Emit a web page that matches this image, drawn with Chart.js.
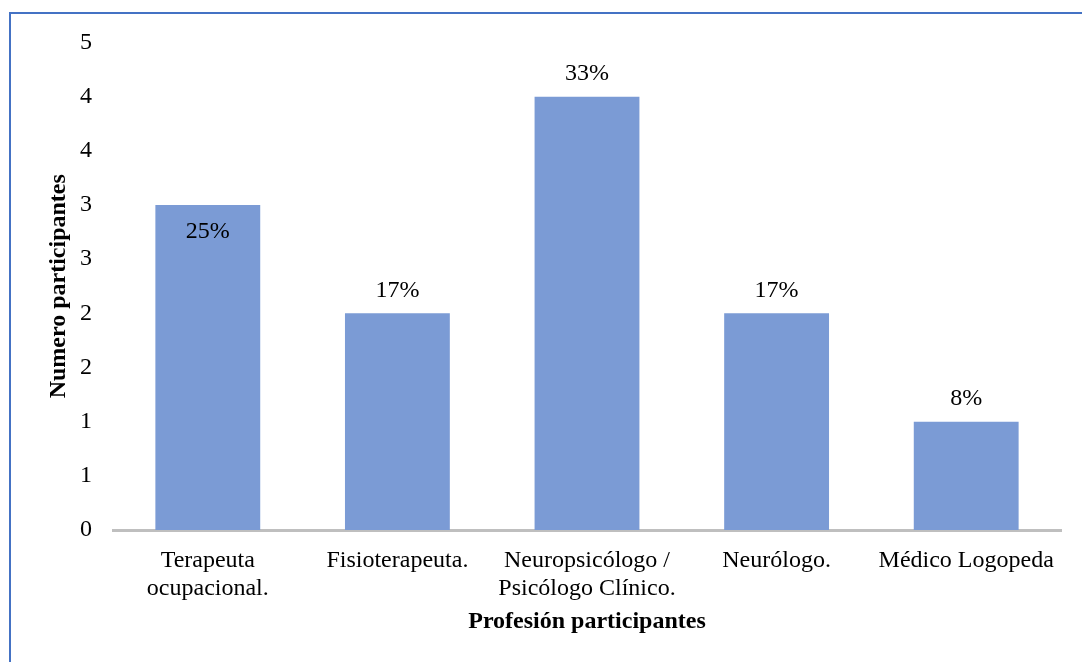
<!DOCTYPE html>
<html lang="es">
<head>
    <meta charset="UTF-8">
    <title>Profesión participantes</title>
    <script src="https://cdn.jsdelivr.net/npm/chart.js"></script>
    <style>
        html, body { margin: 0; padding: 0; background: #fff; overflow: hidden; }
        #wrap { position: relative; width: 1082px; height: 662px; }
        #frame {
            position: absolute; left: 9px; top: 12px; width: 2000px; height: 2000px;
            border-top: 2px solid #4472C4; border-left: 2px solid #4472C4;
            pointer-events: none;
        }
    </style>
</head>
<body>
<div id="wrap">
    <canvas id="chart" width="1082" height="662"></canvas>
    <div id="frame"></div>
</div>

<script>
    // datos del gráfico
    const categorias = [
        ['Terapeuta', 'ocupacional.'],
        'Fisioterapeuta.',
        ['Neuropsicólogo /', 'Psicólogo Clínico.'],
        'Neurólogo.',
        'Médico Logopeda'
    ];
    const participantes = [3, 2, 4, 2, 1];
    const porcentajes = ['25%', '17%', '33%', '17%', '8%'];
    const etiquetaDentro = [true, false, false, false, false]; // la primera etiqueta va dentro de la barra

    const fuente = "'Liberation Serif', 'Times New Roman', serif";

    // plugin sencillo para las etiquetas de datos
    const etiquetas = {
        id: 'etiquetas',
        afterDatasetsDraw(chart) {
            const ctx = chart.ctx;
            const meta = chart.getDatasetMeta(0);
            ctx.save();
            ctx.font = '24px ' + fuente;
            ctx.fillStyle = '#000';
            ctx.textAlign = 'center';
            ctx.textBaseline = 'middle';
            meta.data.forEach((bar, i) => {
                const y = etiquetaDentro[i] ? bar.y + 27 : bar.y - 23;
                ctx.fillText(porcentajes[i], bar.x, y);
            });
            ctx.restore();
        }
    };

    const ctx = document.getElementById('chart').getContext('2d');
    new Chart(ctx, {
        type: 'bar',
        data: {
            labels: categorias,
            datasets: [{
                data: participantes,
                backgroundColor: '#7B9BD5',
                categoryPercentage: 1,
                barPercentage: 0.553
            }]
        },
        options: {
            responsive: false,
            animation: false,
            layout: { padding: { left: 0, right: 21, top: 42.5, bottom: 0 } },
            plugins: { legend: { display: false }, tooltip: { enabled: false } },
            scales: {
                x: {
                    grid: { display: false, drawTicks: false },
                    border: { display: true, color: '#BFBFBF', width: 3 },
                    ticks: {
                        color: '#000',
                        padding: 17,
                        maxRotation: 0,
                        autoSkip: false,
                        font: { family: fuente, size: 24, lineHeight: 1.17 }
                    },
                    title: {
                        display: true,
                        text: 'Profesión participantes',
                        color: '#000',
                        padding: { top: 0, bottom: 26 },
                        font: { family: fuente, size: 24, weight: 'bold', lineHeight: 1.2 }
                    },
                    afterFit(scale) { scale.height = 132; }
                },
                y: {
                    min: 0,
                    max: 4.5,
                    grid: { display: false, drawTicks: false },
                    border: { display: false },
                    ticks: {
                        stepSize: 0.5,
                        color: '#000',
                        padding: 21,
                        font: { family: fuente, size: 24 },
                        callback: v => Math.round(v)
                    },
                    title: {
                        display: true,
                        text: 'Numero participantes',
                        color: '#000',
                        padding: { top: 44, bottom: 0 },
                        font: { family: fuente, size: 24, weight: 'bold', lineHeight: 1.2 }
                    },
                    afterFit(scale) { scale.width = 113; }
                }
            }
        },
        plugins: [etiquetas]
    });
</script>
</body>
</html>
